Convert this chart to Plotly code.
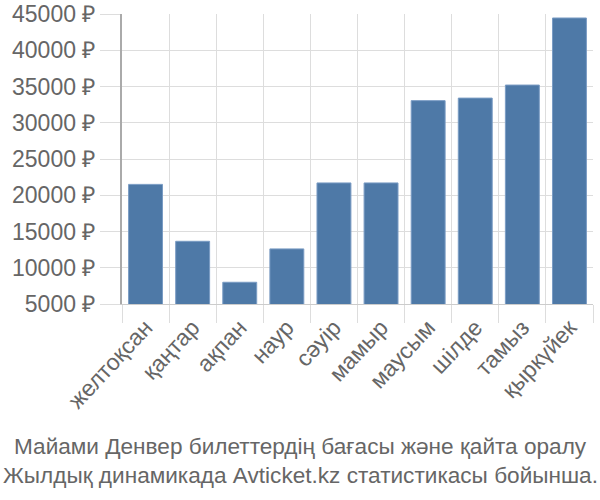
import plotly.graph_objects as go

months = ["желтоқсан", "қаңтар", "ақпан", "наур", "сәуір", "мамыр",
          "маусым", "шілде", "тамыз", "қыркүйек"]
prices = [21500, 13650, 8000, 12600, 21700, 21700, 33050, 33400, 35200, 44450]
y_ticks = [5000, 10000, 15000, 20000, 25000, 30000, 35000, 40000, 45000]
y_tick_labels = [f"{v} ₽" for v in y_ticks]
title_lines = ["Майами Денвер билеттердің бағасы және қайта оралу",
               "Жылдық динамикада Avticket.kz статистикасы бойынша."]

fig = go.Figure(go.Bar(
    x=months, y=prices,
    marker=dict(color="#4e79a7", line=dict(color="#7a9cc4", width=1)),
))

fig.update_layout(
    width=600, height=500,
    margin=dict(l=122, r=7, t=14, b=196),
    paper_bgcolor="white", plot_bgcolor="white",
    bargap=0.28,
    showlegend=False,
    font=dict(family="Liberation Sans, Arial, sans-serif", color="#666666"),
    annotations=[
        dict(text=title_lines[0], xref="paper", yref="paper",
             x=0.378, xanchor="center", y=-0.493, yanchor="middle",
             showarrow=False, font=dict(size=22.6, color="#666666")),
        dict(text=title_lines[1], xref="paper", yref="paper",
             x=0.378, xanchor="center", y=-0.590, yanchor="middle",
             showarrow=False, font=dict(size=22.6, color="#666666")),
    ],
)

fig.update_xaxes(
    tickangle=-47,
    tickson="boundaries",
    ticks="outside", ticklen=18, tickcolor="#dddddd",
    showgrid=True, gridcolor="#dddddd", gridwidth=1,
    showline=True, linecolor="#cccccc", linewidth=1,
    tickfont=dict(size=23, color="#666666"),
    automargin=False,
)
fig.update_yaxes(
    range=[5000, 45000],
    tickvals=y_ticks, ticktext=y_tick_labels,
    ticks="outside", ticklen=20, tickcolor="#dddddd",
    showgrid=True, gridcolor="#dddddd", gridwidth=1,
    showline=True, linecolor="#aaaaaa", linewidth=2,
    zeroline=False,
    tickfont=dict(size=23, color="#666666"),
    automargin=False,
)

fig.write_html("out.html", config={"displayModeBar": False},
               post_script="document.body.style.margin='0';")
